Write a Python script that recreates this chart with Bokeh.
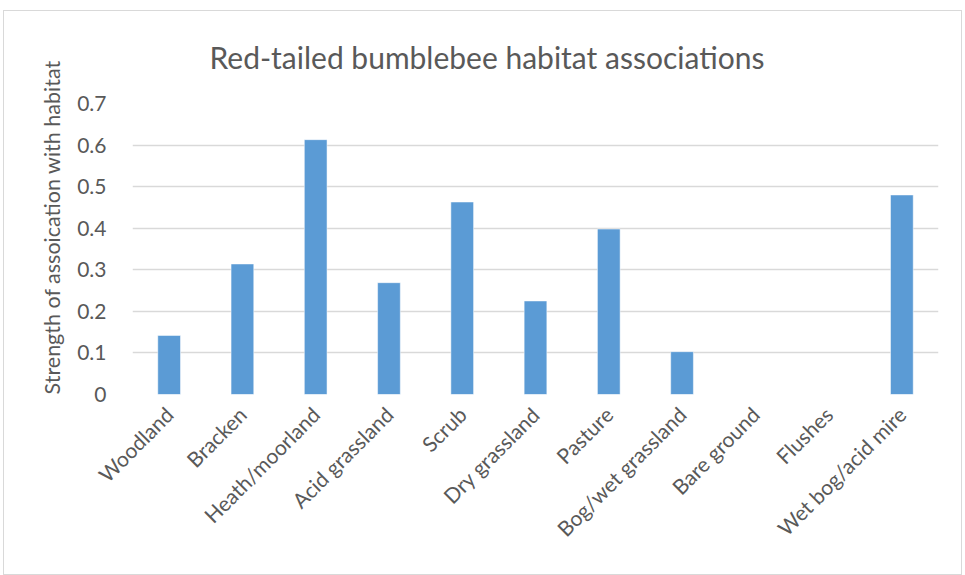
import math
from bokeh.plotting import figure
from bokeh.models import FixedTicker, Range1d, Title
from bokeh.embed import file_html
from bokeh.resources import INLINE

categories = ["Woodland", "Bracken", "Heath/moorland", "Acid grassland", "Scrub",
              "Dry grassland", "Pasture", "Bog/wet grassland", "Bare ground",
              "Flushes", "Wet bog/acid mire"]
values = [0.142, 0.314, 0.613, 0.269, 0.463, 0.225, 0.398, 0.103, 0.0, 0.0, 0.48]
y_ticks = [0, 0.1, 0.2, 0.3, 0.4, 0.5, 0.6, 0.7]
title_text = "Red-tailed bumblebee habitat associations"
y_title = "Strength of assoication with habitat"

FONT = "Lato"
GRAY = "#595959"

p = figure(x_range=categories, y_range=Range1d(0, 0.7),
           width=959, height=565, output_backend="svg", toolbar_location=None,
           min_border_left=128, min_border_right=25, min_border_top=92, min_border_bottom=182)
p.margin = (10, 0, 0, 3)
p.styles = {"border": "1px solid #d9d9d9"}

p.vbar(x=categories, top=values, width=0.31, color="#5B9BD5", line_color="#ffffff", line_width=0.5)

p.title.text = title_text
p.title.align = "left"
p.title.offset = 77
p.title.vertical_align = "top"
p.title.text_font = FONT
p.title.text_font_style = "normal"
p.title.text_font_size = "30px"
p.title.text_color = GRAY
p.title.standoff = 54

p.add_layout(Title(text=y_title, align="left", offset=0, standoff=20,
                   text_font=FONT, text_font_style="normal", text_font_size="21.5px",
                   text_color=GRAY), "left")

p.outline_line_color = None
p.xgrid.grid_line_color = None
p.ygrid.grid_line_color = "#d9d9d9"
p.ygrid.grid_line_width = 1.5

p.yaxis.ticker = FixedTicker(ticks=y_ticks)
p.yaxis.major_label_overrides = {0: "0"}
p.yaxis.axis_line_color = None
p.yaxis.major_tick_line_color = None
p.yaxis.minor_tick_line_color = None
p.yaxis.major_label_text_font = FONT
p.yaxis.major_label_text_font_size = "21px"
p.yaxis.major_label_text_color = GRAY
p.yaxis.major_label_standoff = 20

p.xaxis.axis_line_color = None
p.xaxis.major_tick_line_color = None
p.xaxis.minor_tick_line_color = None
p.xaxis.major_label_orientation = math.pi / 4
p.xaxis.major_label_text_font = FONT
p.xaxis.major_label_text_font_size = "21px"
p.xaxis.major_label_text_color = GRAY
p.xaxis.major_label_standoff = 10

open("out.html", "w").write(file_html(p, INLINE))
